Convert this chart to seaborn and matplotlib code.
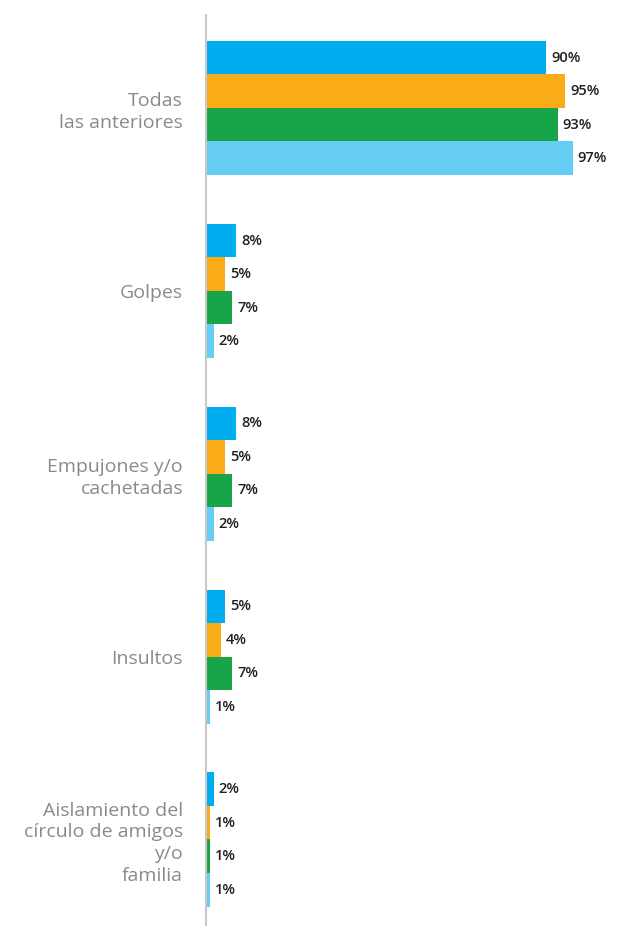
import matplotlib
matplotlib.use("Agg")
import matplotlib.pyplot as plt
import seaborn as sns
import pandas as pd

categories = ["Todas\nlas anteriores", "Golpes", "Empujones y/o\ncachetadas", "Insultos",
              "Aislamiento del\ncírculo de amigos\ny/o\nfamilia"]
series = ["Serie 1", "Serie 2", "Serie 3", "Serie 4"]
values = {
    "Serie 1": [90, 8, 8, 5, 2],
    "Serie 2": [95, 5, 5, 4, 1],
    "Serie 3": [93, 7, 7, 7, 1],
    "Serie 4": [97, 2, 2, 1, 1],
}
colors = ["#00AEEF", "#FAAC18", "#18A54A", "#66CEF5"]

rows = []
for s in series:
    for c, v in zip(categories, values[s]):
        rows.append({"cat": c, "serie": s, "val": v})
df = pd.DataFrame(rows)

sns.set_theme(style="white")
plt.rcParams["font.family"] = ["Open Sans", "DejaVu Sans"]

fig = plt.figure(figsize=(6.19, 9.26), dpi=100)
ax = fig.add_axes([206 / 619, 0, 1 - 206 / 619, 1 - 15 / 926])

sns.barplot(data=df, y="cat", x="val", hue="serie", order=categories, hue_order=series,
            palette=colors, orient="h", width=0.733, gap=0, legend=False, ax=ax,
            saturation=1, errorbar=None, linewidth=0)

for cont in ax.containers:
    labels = [f"{int(round(b.get_width()))}%" for b in cont]
    ax.bar_label(cont, labels=labels, padding=3.5, fontsize=10.5, fontweight="semibold",
                 color="#231f20")

ax.set_xlim(0, 413 / 3.78)
ax.set_ylim(4.473, -0.508)
ax.set_xlabel("")
ax.set_ylabel("")
ax.set_xticks([])
ax.tick_params(axis="y", length=0, pad=16.5, labelsize=14, labelcolor="#8a8a8a")
for lab in ax.get_yticklabels():
    lab.set_linespacing(1.28)
    lab.set_horizontalalignment("right")
for sp in ["top", "right", "bottom"]:
    ax.spines[sp].set_visible(False)
ax.spines["left"].set_color("#c8c8c8")
ax.spines["left"].set_linewidth(1.5)

fig.savefig("out.png", dpi=100)
